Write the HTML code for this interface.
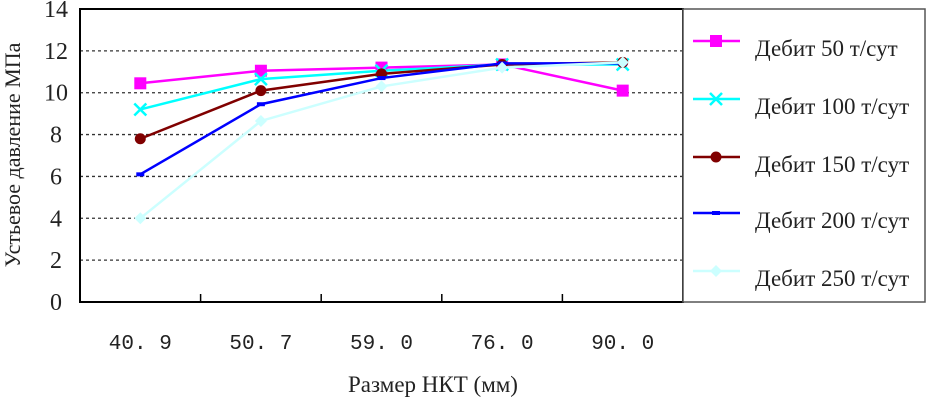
<!DOCTYPE html>
<html><head><meta charset="utf-8"><style>
body{margin:0;background:#fff;}
svg{display:block;font-family:"Liberation Serif",serif;}
</style></head><body>
<svg id="chart" width="928" height="401"></svg>
<script>
const categories=["40.9","50.7","59.0","76.0","90.0"];
const yTicks=[0,2,4,6,8,10,12,14];
const seriesNames=["Дебит 50 т/сут","Дебит 100 т/сут","Дебит 150 т/сут","Дебит 200 т/сут","Дебит 250 т/сут"];
const s50=[10.45,11.05,11.2,11.35,10.1];
const s100=[9.2,10.65,11.05,11.35,11.35];
const s150=[7.8,10.1,10.9,11.35,11.45];
const s200=[6.1,9.45,10.7,11.4,11.4];
const s250=[4.0,8.65,10.3,11.2,11.45];
const series=[s50,s100,s150,s200,s250];
const colors=["#ff00ff","#00ffff","#800000","#0000ff","#ccffff"];
const markers=["square","x","circle","dash","diamond"];
const NS="http://www.w3.org/2000/svg";
const svg=document.getElementById('chart');
const L=80,R=683,T=9,B=302;
const x=i=>L+(R-L)/categories.length*(i+0.5);
const y=v=>B-(B-T)*v/14;
function mk(tag,a,p){const e=document.createElementNS(NS,tag);for(const k in a)e.setAttribute(k,a[k]);(p||svg).appendChild(e);return e;}
yTicks.forEach(t=>{
 if(t>0&&t<14){const g=mk('line',{x1:L,x2:R,y1:y(t),y2:y(t),stroke:'#333','stroke-width':1.3,'stroke-dasharray':'3,3'});
 
 }
 const tl=mk('text',{x:56,y:y(t)+8,'text-anchor':'middle','font-size':24,fill:'#222'});tl.textContent=t;
 
 
});
const fr=mk('rect',{x:L,y:T,width:R-L,height:B-T,fill:'none',stroke:'#000','stroke-width':2});


for(let i=1;i<categories.length;i++){const tk=mk('line',{x1:L+(R-L)/5*i,x2:L+(R-L)/5*i,y1:B,y2:B-8,stroke:'#000','stroke-width':1.5});
 
 }
categories.forEach((c,i)=>{const t=mk('text',{x:x(i),y:349,'text-anchor':'middle','font-size':21,fill:'#222','font-family':'"Liberation Mono",monospace'});t.textContent=c.replace('.','. ');
 
 });
function marker(type,cx,cy,col,g){
 if(type==='square')mk('rect',{x:cx-6,y:cy-6,width:12,height:12,fill:col},g);
 else if(type==='x'){mk('path',{d:`M${cx-6} ${cy-6}L${cx+6} ${cy+6}M${cx+6} ${cy-6}L${cx-6} ${cy+6}`,stroke:col,'stroke-width':2.5},g);}
 else if(type==='circle')mk('circle',{cx:cx,cy:cy,r:5.5,fill:col},g);
 else if(type==='dash')mk('rect',{x:cx-4,y:cy-2,width:8,height:4,fill:col},g);
 else mk('path',{d:`M${cx} ${cy-6}L${cx+6} ${cy}L${cx} ${cy+6}L${cx-6} ${cy}Z`,fill:col},g);
}
series.forEach((s,k)=>{
 const g=mk('g',{});
 
 
 mk('polyline',{points:s.map((v,i)=>x(i)+','+y(v)).join(' '),fill:'none',stroke:colors[k],'stroke-width':2.5},g);
 s.forEach((v,i)=>marker(markers[k],x(i),y(v),colors[k],g));
});
const lb=mk('rect',{x:683,y:9,width:242,height:293,fill:'#fff',stroke:'#555','stroke-width':1.5});


const ly=[41,99,157,213,271];
seriesNames.forEach((n,k)=>{
 const g=mk('g',{});
 
 
 mk('line',{x1:693,x2:740,y1:ly[k],y2:ly[k],stroke:colors[k],'stroke-width':2.5},g);
 marker(markers[k],716,ly[k],colors[k],g);
 const t=mk('text',{x:755,y:ly[k]+15,'font-size':23,fill:'#222'},g);t.textContent=n;
});
const yt=mk('text',{x:0,y:0,transform:'translate(20,155) rotate(-90)','text-anchor':'middle','font-size':22,fill:'#222'});
yt.textContent='Устьевое давление МПа';


const xt=mk('text',{x:433,y:392,'text-anchor':'middle','font-size':23,fill:'#222'});
xt.textContent='Размер НКТ (мм)';


</script>
</body></html>
